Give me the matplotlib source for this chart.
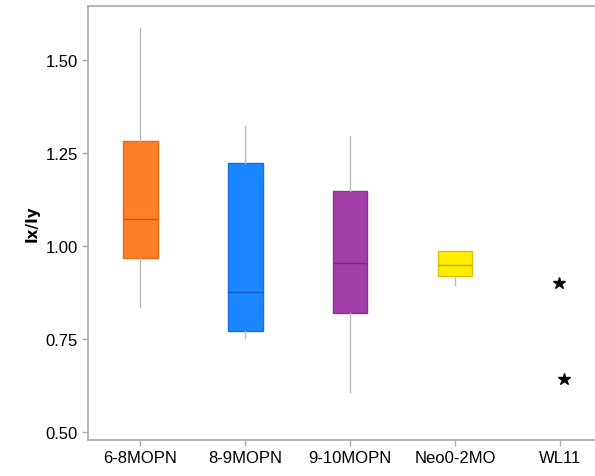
import matplotlib.pyplot as plt

plt.rcParams['font.family'] = ['Liberation Sans', 'DejaVu Sans']

groups = ['6-8MOPN', '8-9MOPN', '9-10MOPN', 'Neo0-2MO', 'WL11']
whis_lo = [0.836, 0.753, 0.607, 0.895]
q1 = [0.968, 0.771, 0.820, 0.919]
med = [1.073, 0.876, 0.954, 0.949]
q3 = [1.282, 1.223, 1.148, 0.987]
whis_hi = [1.586, 1.323, 1.296, 0.987]
wl11_pts = [0.900, 0.642]

fills = ['#FF7F27', '#1A86FF', '#A23FA8', '#FFEE00']
edges = ['#E8691A', '#1670E0', '#8A3090', '#D8C400']
meds = ['#C85A18', '#1460C0', '#7A2A80', '#B8A400']

fig = plt.figure(figsize=(5.95, 4.77), dpi=100)
ax = fig.add_axes([0.148, 0.0755, 0.881, 0.910])

stats = []
for i in range(4):
    stats.append(dict(whislo=whis_lo[i], q1=q1[i], med=med[i], q3=q3[i],
                      whishi=whis_hi[i], fliers=[]))

bp = ax.bxp(stats, positions=[1, 2, 3, 4], widths=0.33, patch_artist=True,
            showcaps=False, showfliers=False,
            whiskerprops=dict(color='#BBBBBB', linewidth=1))
for i, b in enumerate(bp['boxes']):
    b.set_facecolor(fills[i])
    b.set_edgecolor(edges[i])
    b.set_linewidth(1)
for i, m in enumerate(bp['medians']):
    m.set_color(meds[i])
    m.set_linewidth(1)

ax.plot([4.99, 5.04], wl11_pts, linestyle='none', marker='*', color='black',
        markersize=9)

ax.set_xlim(0.5, 5.5)
ax.set_ylim(0.478, 1.645)
ax.set_xticks([1, 2, 3, 4, 5])
ax.set_xticklabels(groups, fontsize=12)
ax.set_yticks([0.50, 0.75, 1.00, 1.25, 1.50])
ax.set_yticklabels(['0.50', '0.75', '1.00', '1.25', '1.50'], fontsize=12)
ax.set_ylabel('Ix/Iy', fontsize=11, fontweight='bold', family=['DejaVu Sans'],
              labelpad=4)
ax.tick_params(length=4, color='#AAAAAA', width=1)
for s in ax.spines.values():
    s.set_color('#AAAAAA')
    s.set_linewidth(1.2)

fig.savefig('out.png', dpi=100)
